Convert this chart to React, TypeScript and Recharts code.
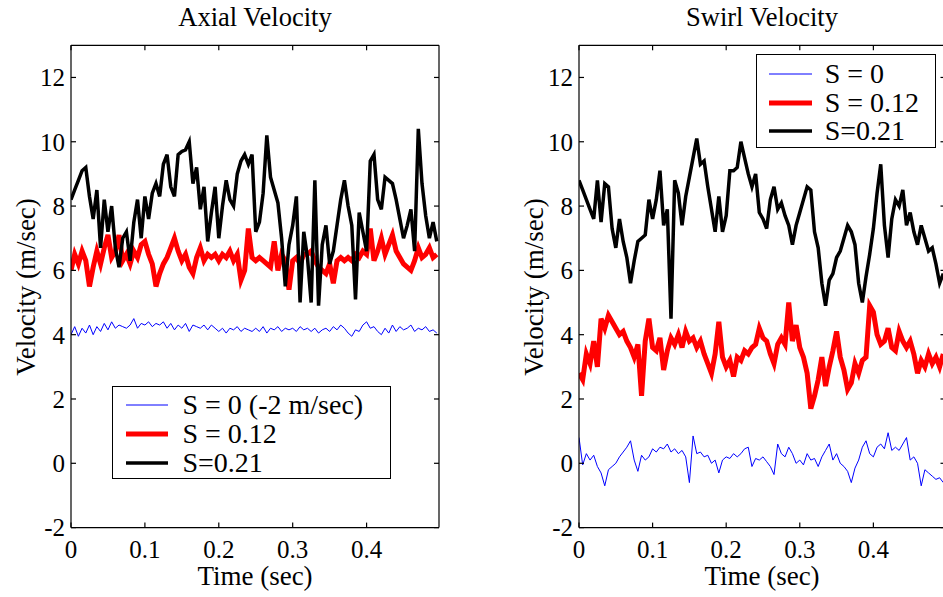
import { LineChart, Line, XAxis, YAxis, Legend } from 'recharts'

const FONT = '"Liberation Serif", "Times New Roman", serif'

// sample times in seconds, one reading every 5 ms
const time = Array.from({ length: 100 }, (_, i) => Math.round(i * 5) / 1000)

const xTicks = [0, 0.1, 0.2, 0.3, 0.4]
const yTicks = [-2, 0, 2, 4, 6, 8, 10, 12]

// axial velocity (m/sec)
const axialS0 = [
  4.0, 4.25, 3.95, 4.2, 4.05, 4.3, 4.0, 4.25, 4.1, 4.35,
  4.15, 4.4, 4.2, 4.3, 4.25, 4.2, 4.3, 4.5, 4.2, 4.35,
  4.3, 4.4, 4.25, 4.35, 4.3, 4.4, 4.2, 4.35, 4.15, 4.3,
  4.2, 4.35, 4.1, 4.3, 4.25, 4.2, 4.3, 4.15, 4.3, 4.2,
  4.1, 4.2, 4.05, 4.2, 4.15, 4.25, 4.1, 4.2, 4.15, 4.1,
  4.2, 4.1, 4.25, 4.05, 4.2, 4.15, 4.25, 4.1, 4.2, 4.15,
  4.2, 4.1, 4.25, 4.15, 4.2, 4.1, 4.2, 4.05, 4.15, 4.2,
  4.1, 4.25, 4.15, 4.3, 4.2, 4.05, 3.95, 4.15, 4.1, 4.3,
  4.4, 4.2, 4.25, 4.1, 4.0, 4.2, 4.05, 4.3, 4.1, 4.25,
  4.15, 4.2, 4.3, 4.1, 4.2, 4.15, 4.25, 4.1, 4.15, 4.05,
]
const axialS012 = [
  6.0, 6.5, 6.2, 6.6, 6.3, 5.5, 6.1, 6.6, 6.2, 6.7,
  7.1, 6.4, 6.6, 7.1, 6.3, 6.5, 6.2, 6.6, 6.4, 6.8,
  6.9, 6.5, 6.2, 5.5, 5.9, 6.2, 6.4, 6.7, 7.0, 6.6,
  6.3, 6.5, 6.1, 5.9, 6.4, 6.7, 6.3, 6.5, 6.4, 6.5,
  6.3, 6.5, 6.4, 6.6, 6.3, 6.5, 5.7, 6.0, 7.3, 6.4,
  6.3, 6.4, 6.3, 6.2, 6.1, 6.9, 6.0, 6.5, 6.3, 5.4,
  6.3, 6.4, 6.2, 6.5, 6.5, 6.6, 6.3, 6.1, 6.0, 5.9,
  6.2, 5.6, 6.3, 6.4, 6.3, 6.4, 6.3, 6.5, 6.4, 6.6,
  6.5, 7.3, 6.3, 6.6, 7.0, 6.5, 6.8, 7.1, 6.6, 6.4,
  6.2, 6.1, 6.0, 6.3, 6.7, 6.4, 6.5, 6.7, 6.4, 6.5,
]
const axialS021 = [
  8.2, 8.5, 8.8, 9.1, 9.2, 8.3, 7.6, 8.5, 6.7, 8.2,
  7.2, 8.0, 6.7, 6.1, 7.0, 7.2, 6.3, 7.5, 8.2, 7.0,
  8.3, 7.6, 8.4, 8.7, 8.3, 9.3, 9.6, 8.6, 8.3, 9.6,
  9.7, 9.75, 10.0, 8.7, 9.2, 7.9, 8.6, 6.9, 7.8, 8.6,
  7.0, 8.0, 8.8, 8.2, 8.0, 9.0, 9.4, 9.6, 9.3, 9.6,
  7.2, 7.5, 8.4, 10.2, 8.9, 8.5, 8.1, 7.0, 5.5, 6.8,
  7.4, 8.3, 5.0, 7.2, 6.4, 5.0, 8.8, 4.9, 6.8, 7.4,
  6.2, 6.6, 7.4, 8.2, 8.8, 8.0, 7.4, 5.1, 7.8, 7.2,
  6.6, 9.4, 9.6, 8.2, 7.9, 8.9, 8.8, 8.7, 8.2, 7.6,
  7.0, 7.4, 7.9, 6.6, 10.4, 8.7, 7.7, 7.0, 7.5, 6.9,
]

// swirl velocity (m/sec), right panel
const swirlS0 = [
  0.8, -0.05, 0.3, 0.1, 0.25, -0.1, -0.3, -0.7, -0.2, -0.1,
  0.0, 0.2, 0.35, 0.5, 0.7, 0.1, -0.25, 0.25, 0.1, 0.2,
  0.45, 0.35, 0.5, 0.45, 0.6, 0.35, 0.45, 0.3, 0.4, 0.2,
  -0.6, 0.85, 0.3, 0.35, 0.2, 0.25, 0.0, 0.1, -0.3, 0.1,
  0.2, 0.15, 0.3, 0.2, 0.3, 0.45, 0.5, -0.1, 0.15, 0.1,
  0.2, 0.05, -0.1, -0.35, 0.6, 0.3, 0.2, 0.5, 0.3, 0.0,
  0.1, -0.05, 0.3, 0.1, 0.15, -0.1, 0.2, 0.4, 0.6, 0.1,
  0.3, 0.0, -0.1, -0.25, -0.6, -0.15, 0.1, 0.5, 0.7, 0.3,
  0.2, 0.5, 0.6, 0.45, 0.95, 0.4, 0.5, 0.4, 0.6, 0.8,
  0.1, 0.2, 0.0, -0.7, -0.2, -0.3, -0.4, -0.5, -0.45, -0.6,
]
const swirlS012 = [
  2.8, 2.6, 3.4, 3.1, 3.8, 3.0, 4.5, 4.2, 4.6, 4.4,
  4.2, 4.0, 4.1, 3.8, 3.6, 3.3, 3.7, 2.1, 3.8, 4.5,
  3.6, 3.5, 3.9, 2.9, 3.5, 3.9, 3.7, 4.0, 3.6, 4.1,
  3.8, 3.9, 3.6, 3.8, 3.4, 3.1, 2.8, 3.4, 4.4, 3.3,
  3.0, 3.2, 2.7, 3.3, 3.2, 3.5, 3.4, 3.6, 3.7, 4.2,
  3.9, 3.8, 3.4, 3.1, 3.7, 3.9, 3.7, 5.0, 3.8, 4.3,
  3.6, 3.3, 2.8, 1.7, 2.1, 2.6, 3.3, 2.4, 3.0, 3.5,
  4.1, 3.3, 2.9, 2.3, 2.5, 3.1, 2.8, 3.2, 3.3, 4.9,
  4.7, 4.0, 3.7, 3.8, 4.2, 3.6, 3.5, 4.1, 3.8, 3.6,
  3.8, 3.4, 2.8, 3.2, 3.0, 3.4, 3.1, 3.3, 3.0, 3.4,
]
const swirlS021 = [
  8.8, 8.5, 8.2, 7.9, 7.6, 8.8, 7.5, 8.7, 8.6, 7.3,
  6.7, 7.6, 6.9, 6.4, 5.6, 6.3, 6.9, 7.0, 7.1, 8.2,
  7.6, 8.2, 9.1, 7.4, 7.9, 4.5, 8.8, 8.4, 7.4, 8.3,
  8.9, 9.5, 10.1, 9.3, 9.4, 8.6, 7.9, 7.2, 8.3, 7.2,
  7.7, 9.1, 9.1, 9.2, 10.0, 9.5, 9.0, 8.6, 9.0, 7.8,
  7.6, 7.3, 8.2, 8.6, 7.9, 8.1, 7.7, 7.4, 6.8, 7.4,
  7.8, 8.2, 8.6, 8.5, 7.2, 6.7, 5.6, 4.9, 5.7, 5.9,
  6.4, 6.6, 7.0, 7.4, 7.2, 6.8, 5.6, 5.0, 5.8, 6.5,
  7.3, 8.4, 9.3, 7.4, 6.4, 7.6, 8.2, 8.0, 8.5, 7.4,
  7.8, 7.2, 6.8, 7.4, 7.0, 6.6, 6.7, 6.2, 5.6, 5.9,
]

const axialNames = ['S = 0 (-2 m/sec)', 'S = 0.12', 'S=0.21']
const swirlNames = ['S = 0', 'S = 0.12', 'S=0.21']

const keys = ['s0', 's12', 's21']
const colors = ['#0000ff', '#ff0000', '#000000']
const widths = [1, 5, 3.5]

const toRows = (a: number[], b: number[], c: number[]) =>
  time.map((t, i) => ({ t, s0: a[i], s12: b[i], s21: c[i] }))

const axialData = toRows(axialS0, axialS012, axialS021)
const swirlData = toRows(swirlS0, swirlS012, swirlS021)

const tickFont = { fontSize: 25, fill: '#000', fontFamily: FONT }
const black = { stroke: '#000', strokeWidth: 1.2 }

function LegendBox({ names, width, indent, sample, gap, padTop, row }: any) {
  return (
    <div
      style={{
        width,
        boxSizing: 'border-box',
        border: '1.5px solid #000',
        background: '#fff',
        paddingTop: padTop,
        paddingBottom: 1,
        fontFamily: FONT,
        fontSize: 28,
        color: '#000',
      }}
    >
      {names.map((n: string, i: number) => (
        <div key={n} style={{ display: 'flex', alignItems: 'center', height: row }}>
          <svg width={sample} height={10} style={{ marginLeft: indent, flex: 'none' }}>
            <line x1={0} y1={5} x2={sample} y2={5} stroke={colors[i]} strokeWidth={widths[i]} />
          </svg>
          <span style={{ marginLeft: gap, lineHeight: 1, whiteSpace: 'nowrap' }}>{n}</span>
        </div>
      ))}
    </div>
  )
}

function Panel({ data, names, x, margin, legend }: any) {
  return (
    <div style={{ position: 'absolute', left: x, top: 0 }}>
      <LineChart width={460} height={597} data={data} margin={margin}>
        <XAxis
          dataKey="t"
          type="number"
          domain={[0, 0.498]}
          ticks={xTicks}
          interval={0}
          allowDataOverflow
          height={40}
          tickSize={-5}
          tickMargin={17.4}
          tick={tickFont}
          axisLine={black}
          tickLine={black}
        />
        <XAxis
          xAxisId="top"
          dataKey="t"
          orientation="top"
          type="number"
          domain={[0, 0.498]}
          ticks={xTicks}
          interval={0}
          allowDataOverflow
          height={1}
          tickSize={-5}
          tickFormatter={() => ''}
          axisLine={black}
          tickLine={black}
        />
        <YAxis
          type="number"
          domain={[-2, 13]}
          ticks={yTicks}
          interval={0}
          allowDataOverflow
          width={60}
          tickSize={-5}
          tickMargin={11}
          tick={tickFont}
          axisLine={black}
          tickLine={black}
        />
        <YAxis
          yAxisId="right"
          orientation="right"
          type="number"
          domain={[-2, 13]}
          ticks={yTicks}
          interval={0}
          allowDataOverflow
          width={1}
          tickSize={-5}
          tickFormatter={() => ''}
          axisLine={black}
          tickLine={black}
        />
        <Legend
          layout="vertical"
          align="center"
          verticalAlign="middle"
          wrapperStyle={{ left: legend.left, top: legend.top, width: legend.width }}
          content={() => <LegendBox names={names} {...legend} />}
        />
        {keys.map((k, i) => (
          <Line
            key={k}
            dataKey={k}
            name={names[i]}
            type="linear"
            stroke={colors[i]}
            strokeWidth={widths[i]}
            dot={false}
            activeDot={false}
            isAnimationActive={false}
          />
        ))}
      </LineChart>
    </div>
  )
}

export default function App() {
  return (
    <div
      style={{
        position: 'fixed',
        left: 0,
        top: 0,
        width: 943,
        height: 597,
        overflow: 'hidden',
        background: '#fff',
        fontFamily: FONT,
      }}
    >
      <Panel
        data={axialData}
        names={axialNames}
        x={0}
        margin={{ top: 44.3, right: 20, bottom: 29.4, left: 11 }}
        legend={{ left: 112, top: 386, width: 279, indent: 12.5, sample: 42, gap: 15, padTop: 3, row: 29 }}
      />
      <Panel
        data={swirlData}
        names={swirlNames}
        x={500}
        margin={{ top: 44.3, right: 13.5, bottom: 29.4, left: 19 }}
        legend={{ left: 255.7, top: 54, width: 180, indent: 12, sample: 43, gap: 13, padTop: 5, row: 28.5 }}
      />
      <svg
        width={943}
        height={597}
        style={{ position: 'absolute', left: 0, top: 0, pointerEvents: 'none' }}
        fontFamily={FONT}
        fill="#000"
      >
        <text x={255} y={26} fontSize={26.5} textAnchor="middle">Axial Velocity</text>
        <text x={762} y={26} fontSize={26.5} textAnchor="middle">Swirl Velocity</text>
        <text x={255} y={585} fontSize={27} textAnchor="middle">Time (sec)</text>
        <text x={762} y={585} fontSize={27} textAnchor="middle">Time (sec)</text>
        <text x={35} y={287} fontSize={27} textAnchor="middle" transform="rotate(-90 35 287)">
          Velocity (m/sec)
        </text>
        <text x={543} y={287} fontSize={27} textAnchor="middle" transform="rotate(-90 543 287)">
          Velocity (m/sec)
        </text>
      </svg>
    </div>
  )
}
